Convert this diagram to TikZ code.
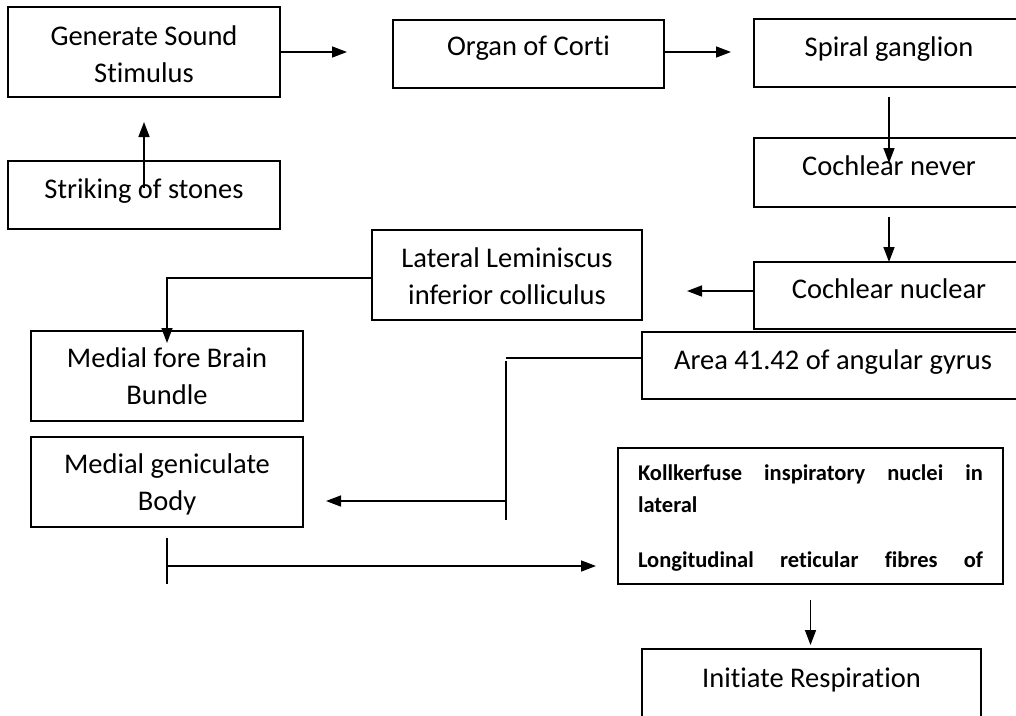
\documentclass[tikz,border=0pt]{standalone}
\usepackage{fontspec}
\setmainfont{Carlito}[Ligatures={NoCommon}]
\usepackage{tikz}
\usetikzlibrary{arrows.meta,positioning,calc}

% width, height, first baseline, text
\newcommand{\boxtext}[4]{\parbox[c][#2pt][t]{#1pt}{\centering\rule{0pt}{#3pt}#4}}

\tikzset{
  box/.style={draw,line width=1.8pt,inner sep=0pt,outer sep=0pt,anchor=north west,
    font=\fontsize{28.5pt}{37pt}\selectfont},
  link/.style={line width=1.5pt,-{Triangle[length=15pt,width=11pt]}},
  plain/.style={line width=1.5pt}
}

\begin{document}
\begin{tikzpicture}[x=1pt,y=-1pt]
  \useasboundingbox (0,0) rectangle (1016,715);
  \clip (0,0) rectangle (1016,715);
  \node[box] (gen) at (8,7) {\boxtext{272}{90}{38}{Generate Sound\\Stimulus}};
  \node[box] (strike) at (8,161) {\boxtext{272}{68}{37}{Striking of stones}};
  \node[box] (organ) at (393,20) {\boxtext{271}{68}{35}{Organ of Corti}};
  \node[box] (spiral) at (754,19) {\boxtext{270}{68}{37}{Spiral ganglion}};
  \node[box] (never) at (754,138) {\boxtext{270}{69}{37}{Cochlear never}};
  \node[box] (nuclear) at (754,262) {\boxtext{270}{67}{36}{Cochlear nuclear}};
  \node[box] (lateral) at (372,230)
    {\boxtext{270}{90}{37}{Lateral Leminiscus\\inferior colliculus}};
  \node[box] (area) at (642,332) {\boxtext{382}{67}{37}{Area 41.42 of angular gyrus}};
  \node[box] (mfb) at (31,331) {\boxtext{272}{90}{36}{Medial fore Brain\\Bundle}};
  \node[box] (mgb) at (31,437) {\boxtext{272}{90}{36}{Medial geniculate\\Body}};
  \node[box,inner xsep=20pt] (kolk) at (618,448)
    {\parbox[c][136pt][t]{345pt}{\bfseries\fontsize{22.5pt}{32pt}\selectfont\raggedright
      \rule{0pt}{32pt}\makebox[345pt][s]{Kollkerfuse inspiratory nuclei in}\\
      lateral\\[23pt]
      \makebox[345pt][s]{Longitudinal reticular fibres of}}};
  \node[box] (resp) at (642,649) {\boxtext{339}{90}{38}{Initiate Respiration}};

  % top row and right column
  \draw[link,shorten >=46pt] (gen.east) -- (gen.east -| organ.west);
  \draw[link,shorten >=23pt] ([yshift=2pt]organ.east) -- ([yshift=2pt]organ.east -| spiral.west);
  \draw[link,shorten <=7pt,shorten >=25pt] (strike.center) -- (gen.south);
  \draw[link,shorten <=10pt,shorten >=-25pt] (spiral.south) -- (never.north);
  \draw[link,shorten <=10pt] (never.south) -- (nuclear.north);
  \draw[link,shorten >=45pt] ([yshift=4.5pt]nuclear.west) -- ([yshift=4.5pt]nuclear.west -| lateral.east);
  \draw[link,shorten >=-12pt] ([yshift=-3pt]lateral.west) -| (mfb.north);

  % area 41.42 to medial geniculate
  \coordinate (areaknee) at (506,361);
  \coordinate (areafoot) at (506,520);
  \coordinate (areatap) at (506,501);
  \draw[plain] ([yshift=7.5pt]area.west) -- ([yshift=7.5pt]area.west -| areaknee);
  \draw[plain] (areaknee) -- (areafoot);
  \draw[link,shorten >=23pt] (areatap) -- (areatap -| mgb.east);

  % medial geniculate to kollkerfuse
  \coordinate (mgbfoot) at ([yshift=-57pt]mgb.south);
  \coordinate (mgbtap) at ([yshift=-39pt]mgb.south);
  \draw[plain,shorten <=11pt] (mgb.south) -- (mgbfoot);
  \draw[link,shorten >=22pt] (mgbtap) -- (mgbtap -| kolk.west);
  \draw[link,shorten <=16pt,shorten >=4pt] (kolk.south) -- (kolk.south |- resp.north);
\end{tikzpicture}
\end{document}
